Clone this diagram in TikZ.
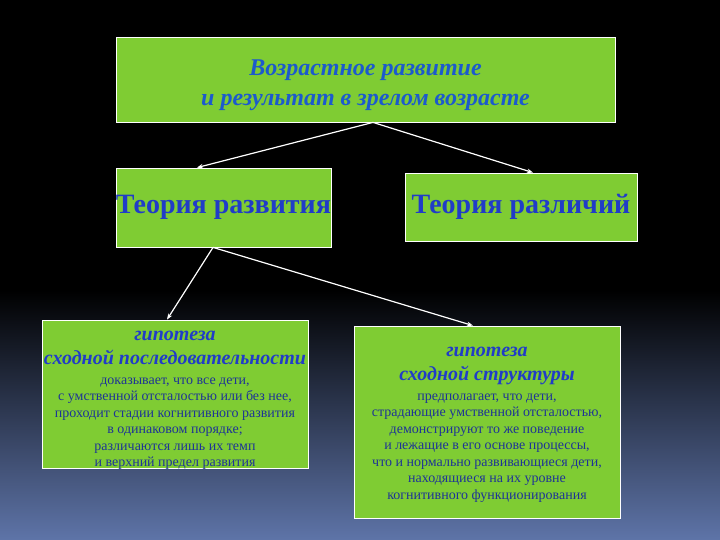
\documentclass[tikz,border=0pt]{standalone}
\usepackage{fontspec}
\setmainfont{Liberation Serif}
\usetikzlibrary{arrows.meta}
\definecolor{boxgreen}{RGB}{127,204,51}
\definecolor{titleblue}{RGB}{28,90,205}
\definecolor{headblue}{RGB}{32,60,200}
\definecolor{bodyblue}{RGB}{30,52,150}
\definecolor{bgblue}{RGB}{94,116,168}
\newcommand{\headfont}{\fontsize{20}{24}\selectfont\bfseries\itshape\color{headblue}}
\begin{document}
\begin{tikzpicture} [
                x=1pt, y=-1pt,
                box/.style = {draw=white, line width=0.8pt, fill=boxgreen, inner sep=0pt, align=center},
                theory/.style = {box, font=\fontsize{28}{30}\selectfont\bfseries, text=headblue},
                hypothesis/.style = {box, minimum width=266, font=\fontsize{14}{16.5}\selectfont, text=bodyblue},
                edge/.style = {draw=white, line width=1.2pt, -{Stealth[length=6pt,width=4.5pt]}},
            ]
            % background
            \fill[black] (0,0) rectangle (720,540);
            \shade[top color=black, bottom color=bgblue] (0,290) rectangle (720,540);
            \useasboundingbox (0,0) rectangle (720,540);

            \node[box, minimum width=499, minimum height=85,
                  font=\fontsize{24}{30}\selectfont\bfseries\itshape, text=titleblue]
                (age) at (365.5,79.5) {\rule{0pt}{27pt}Возрастное развитие\\ и результат в зрелом возрасте};
            \node[theory, minimum width=215, minimum height=79] (dev) at (223.5,207.5) {Теория развития};
            \node[theory, minimum width=232, minimum height=68] (diff) at (521,207) {Теория различий};
            \node[hypothesis, minimum height=148, inner ysep=-3pt] (seq) at (175,394) {%
                {\headfont\rule{0pt}{22pt}гипотеза}\\[7.5pt]
                {\headfont сходной последовательности}\\[3.5pt]
                доказывает, что все дети,\\
                с умственной отсталостью или без нее,\\
                проходит стадии когнитивного развития\\
                в одинаковом порядке;\\
                различаются лишь их темп\\
                и верхний предел развития};
            \node[hypothesis, minimum height=192] (struct) at (487,422) {%
                {\headfont\rule{0pt}{15pt}гипотеза}\\[7.5pt]
                {\headfont сходной структуры}\\[3.5pt]
                предполагает, что дети,\\
                страдающие умственной отсталостью,\\
                демонстрируют то же поведение\\
                и лежащие в его основе процессы,\\
                что и нормально развивающиеся дети,\\
                находящиеся на их уровне\\
                когнитивного функционирования};

            \path[edge] ([xshift=7.5]age.south) -- ([xshift=-26.5]dev.north);
            \path[edge] ([xshift=7.5]age.south) -- ([xshift=12]diff.north);
            \path[edge] ([xshift=-10.5]dev.south) -- ([xshift=-8]seq.north);
            \path[edge] ([xshift=-10.5]dev.south) -- ([xshift=-14]struct.north);
        \end{tikzpicture}
\end{document}
